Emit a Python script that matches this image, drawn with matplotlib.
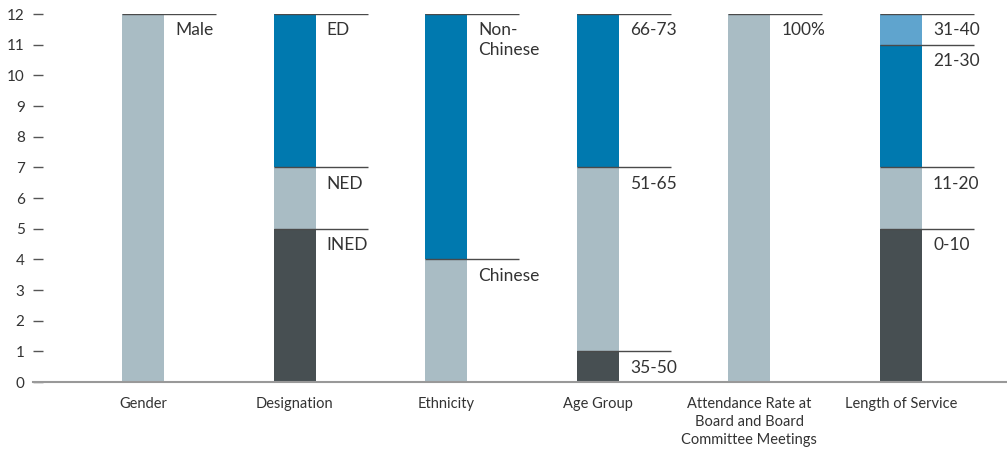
import matplotlib.pyplot as plt
from matplotlib import font_manager

categories = ["Gender", "Designation", "Ethnicity", "Age Group",
              "Attendance Rate at\nBoard and Board\nCommittee Meetings", "Length of Service"]

# segments per category, bottom to top: (label, value, colour key)
gender = [("Male", 12, "light")]
designation = [("INED", 5, "dark"), ("NED", 2, "light"), ("ED", 5, "blue")]
ethnicity = [("Chinese", 4, "light"), ("Non-\nChinese", 8, "blue")]
age_group = [("35-50", 1, "dark"), ("51-65", 6, "light"), ("66-73", 5, "blue")]
attendance = [("100%", 12, "light")]
service = [("0-10", 5, "dark"), ("11-20", 2, "light"), ("21-30", 4, "blue"), ("31-40", 1, "sky")]

stacks = [gender, designation, ethnicity, age_group, attendance, service]

colors = {"light": "#A9BCC4", "dark": "#474F52", "blue": "#0079AF", "sky": "#5FA4CE"}

names = {f.name for f in font_manager.fontManager.ttflist}
fam = "Lato" if "Lato" in names else "DejaVu Sans"
plt.rcParams["font.family"] = [fam, "DejaVu Sans"]

fig = plt.figure(figsize=(10.07, 4.51), dpi=100)
ax = fig.add_axes([33 / 1007, 1 - 382 / 451, 1 - 33 / 1007, (382 - 14) / 451])

bar_w = 0.277
line_len = 0.62
for i, stack in enumerate(stacks):
    bottom = 0
    for label, val, ckey in stack:
        ax.bar(i, val, bottom=bottom, width=bar_w, color=colors[ckey], zorder=2)
        top = bottom + val
        left = i - bar_w / 2
        ax.plot([left, left + line_len], [top, top], color="#4a4a4a", lw=1.0,
                zorder=3, solid_capstyle="butt")
        ax.annotate(label, xy=(i + bar_w / 2, top), xytext=(8, -6),
                    textcoords="offset points", ha="left", va="top",
                    fontsize=12.5, color="#333333",
                    linespacing=1.25)
        bottom = top

ax.set_xlim(-0.726, 5.70)
ax.set_ylim(0, 12)
ax.set_yticks(range(0, 13))
ax.set_xticks(range(len(categories)))
ax.set_xticklabels(categories, fontsize=10.5, color="#333333", linespacing=1.35)
ax.tick_params(axis="x", length=0, pad=11)
ax.tick_params(axis="y", direction="in", length=7, width=1, color="#555555",
               labelsize=11, labelcolor="#333333", pad=6)
for s in ["top", "right", "left"]:
    ax.spines[s].set_visible(False)
ax.spines["bottom"].set_color("#999999")
ax.spines["bottom"].set_linewidth(1.5)
ax.spines["bottom"].set_zorder(4)

fig.savefig("out.png", dpi=100)
